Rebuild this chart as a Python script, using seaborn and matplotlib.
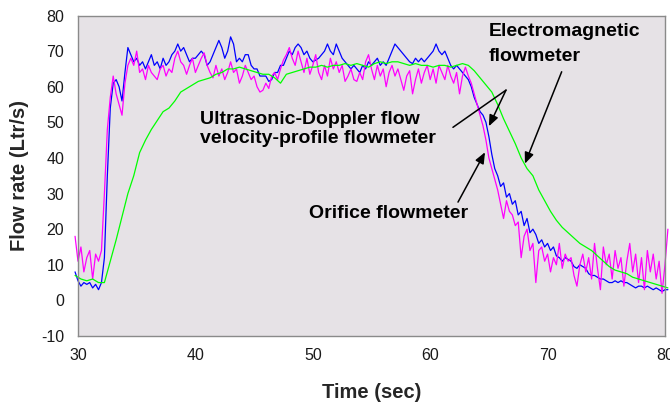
import matplotlib
matplotlib.use("Agg")
import matplotlib.pyplot as plt
import numpy as np
import pandas as pd
import seaborn as sns
from matplotlib.ticker import MultipleLocator


# sample grids (seconds): fast meters every 0.25 s, electromagnetic every 0.5 s
TIME_FAST = np.arange(29.75, 80.26, 0.25)
TIME_SLOW = np.arange(29.75, 80.26, 0.5)

# Ultrasonic-Doppler flow velocity-profile flowmeter (Ltr/s)
DOPPLER = [
    8,
    5.5, 4, 5, 4.5,
    5, 3.5, 4.5, 3,
    5, 12, 35, 54,
    61, 62, 60, 56,
    64, 71, 69, 67,
    68, 66, 67, 65,
    67, 69, 66, 67,
    65, 68, 66, 67,
    69, 70, 72, 70,
    71, 69, 67, 68,
    68, 69, 70, 69,
    66, 67, 69, 71,
    73, 71, 68, 70,
    74, 72, 67, 68,
    67, 69, 69, 66,
    65, 65, 63, 63,
    63, 61.5, 62, 64,
    64, 66, 66, 68,
    70, 69, 71, 72,
    71, 69, 70, 68,
    67, 67.5, 68, 69,
    70, 72, 70, 69,
    72, 70, 68, 67,
    66, 65, 66, 65,
    64, 66, 65, 67,
    66, 67, 68, 66,
    67, 66, 68, 70,
    72, 71, 70, 69,
    68, 67, 66.5, 68,
    67, 68, 67, 68,
    69, 70, 72, 70,
    69, 70, 68, 66,
    65, 66, 65, 64,
    63, 62, 60, 57,
    55, 53, 52, 50,
    46, 41, 37, 35,
    32, 33, 29, 30,
    27, 28, 24, 25,
    21, 23, 19, 20,
    18.5, 16, 17, 15,
    16, 14, 15, 12.5,
    12, 11, 12, 11.5,
    11, 9.5, 9, 10,
    9.5, 9, 7.5, 7,
    7, 6.5, 6, 6,
    5.5, 5, 5, 5.5,
    5, 5.5, 5, 5,
    4.5, 4, 3.5, 4,
    4, 3.5, 4, 3.5,
    3, 3.5, 3, 2.5,
    3, 3,
]

# Orifice flowmeter (Ltr/s)
ORIFICE = [
    18,
    11, 15, 8, 12,
    14, 6, 13, 11,
    14, 30, 48, 57,
    63, 58, 55, 52,
    61, 66, 68, 66,
    70, 64, 65, 62,
    66, 64, 63, 62,
    65, 66, 63, 65,
    64, 68, 70, 67,
    66, 63.5, 66, 68,
    64, 66, 68, 69.5,
    66, 64, 62.5, 66,
    63, 65, 62, 64,
    67, 64, 65, 61,
    63, 66, 64, 62,
    63, 60, 58.5, 59,
    61, 59.5, 63, 64,
    62, 65, 67.5, 69,
    71, 68, 66, 70,
    67, 64, 68, 63.5,
    66, 69, 64, 62,
    66, 63, 68, 65,
    67, 64, 66, 61.5,
    63, 65, 62, 61.5,
    64, 62, 67, 69,
    65, 62, 66, 63,
    65, 60, 64, 66,
    63, 65, 62, 59,
    63, 64.5, 58, 62,
    65, 61, 64, 66,
    62, 65, 61, 66,
    64, 62, 66, 63,
    61, 64, 58, 63,
    65.5, 63, 61, 58,
    55, 52, 49, 45,
    40, 37, 34, 31,
    27, 23, 28, 25,
    24, 21, 22, 12,
    18, 20, 14, 16,
    5, 14, 15, 11,
    13, 8, 12, 10,
    16, 9, 13, 11,
    12, 7, 4, 10,
    13, 8, 12, 6,
    16, 9, 3, 15,
    10, 13, 6, 14,
    9, 12, 4, 11,
    16, 8, 13, 5,
    12, 3, 14, 8,
    13, 6, 11, 2,
    10, 20,
]

# Electromagnetic flowmeter (Ltr/s)
ELECTROMAGNETIC = [
    7, 6, 5.5, 6, 5,
    5, 11, 17, 23.5, 30,
    35, 41.5, 45, 48, 50.5,
    53, 54, 56, 58.5, 59.5,
    60.5, 61.5, 62, 62.5, 63.5,
    64, 65, 65, 65.5, 65,
    64.5, 64, 63.5, 63.5, 62.5,
    61, 63.5, 64, 64.5, 65,
    65.5, 65.5, 66, 65.5, 66,
    66, 66.5, 66, 66.5, 66,
    65.5, 66.5, 67, 66.5, 67,
    67, 66.5, 66, 66.5, 66,
    66, 65.5, 66, 66, 65.5,
    66, 66.5, 66, 64.5, 62.5,
    60.5, 58.5, 55, 51, 47.5,
    44, 40, 37, 35, 31,
    28, 25, 22.5, 20.5, 19,
    17.5, 16, 15, 14, 12.5,
    11, 9.5, 8.5, 8, 7.5,
    6.5, 6, 5.5, 5, 4.5,
    4, 3.5,
]

X_TICKS = [30, 40, 50, 60, 70, 80]
Y_TICKS = [-10, 0, 10, 20, 30, 40, 50, 60, 70, 80]

FRAME_GREY = "#8a8a8a"


def main() -> None:
    sns.set_theme(style="white")
    plt.rcParams["font.family"] = ["Liberation Sans", "DejaVu Sans"]
    plt.rcParams["axes.unicode_minus"] = False

    fast = pd.DataFrame({"time": TIME_FAST, "doppler": DOPPLER, "orifice": ORIFICE})
    slow = pd.DataFrame({"time": TIME_SLOW, "em": ELECTROMAGNETIC})

    fig = plt.figure(figsize=(6.7, 4.05), dpi=100)
    ax = fig.add_axes([0.1164, 0.1704, 0.8761, 0.7913])
    ax.set_facecolor("#E6E2E6")

    line_kw = dict(estimator=None, sort=False, linewidth=0.9, clip_on=False, ax=ax)
    sns.lineplot(data=fast, x="time", y="doppler", color="#0000FF", **line_kw)
    sns.lineplot(data=fast, x="time", y="orifice", color="#FF00FF", **line_kw)
    sns.lineplot(data=slow, x="time", y="em", color="#00FF00", **line_kw)

    ax.set_xlim(30, 80)
    ax.set_ylim(-10, 80)
    ax.set_xticks(X_TICKS)
    ax.set_yticks(Y_TICKS)
    ax.xaxis.set_minor_locator(MultipleLocator(2))
    ax.yaxis.set_minor_locator(MultipleLocator(2))
    ax.tick_params(which="both", direction="in", color=FRAME_GREY, width=1,
                   labelsize=11.5, labelcolor="#1a1a1a")
    ax.tick_params(which="major", length=4)
    ax.tick_params(which="minor", length=2.5)
    ax.tick_params(axis="x", pad=9)
    ax.tick_params(axis="y", pad=10)
    for spine in ax.spines.values():
        spine.set_color(FRAME_GREY)
        spine.set_linewidth(1)

    ax.set_xlabel("Time (sec)", fontsize=14.5, fontweight="bold", va="center")
    ax.set_ylabel("Flow rate (Ltr/s)", fontsize=14.5, fontweight="bold", va="center")
    ax.xaxis.set_label_coords(0.5, -0.175)
    ax.yaxis.set_label_coords(-0.099, 0.5)

    txt = dict(fontsize=14, fontweight="bold", color="black", ha="left", va="baseline")
    ax.text(40.4, 49.5, "Ultrasonic-Doppler flow", **txt)
    ax.text(40.4, 44.1, "velocity-profile flowmeter", **txt)
    ax.text(65.0, 74.2, "Electromagnetic", **txt)
    ax.text(65.0, 67.2, "flowmeter", **txt)
    ax.text(49.7, 23.0, "Orifice flowmeter", **txt)

    plain = dict(arrowstyle="-", color="black", lw=1.1, shrinkA=0, shrinkB=0)
    head = dict(arrowstyle="-|>,head_length=0.6,head_width=0.25", color="black",
                lw=1.1, shrinkA=0, shrinkB=0, mutation_scale=11)
    ax.annotate("", xy=(66.46, 59.05), xytext=(61.94, 48.6), arrowprops=plain)
    ax.annotate("", xy=(65.0, 48.9), xytext=(66.46, 59.05), arrowprops=head)
    ax.annotate("", xy=(64.67, 41.6), xytext=(62.37, 27.6), arrowprops=head)
    ax.annotate("", xy=(68.07, 38.4), xytext=(71.2, 64.2), arrowprops=head)

    fig.savefig("out.png", dpi=100)
    plt.close(fig)


if __name__ == "__main__":
    main()
